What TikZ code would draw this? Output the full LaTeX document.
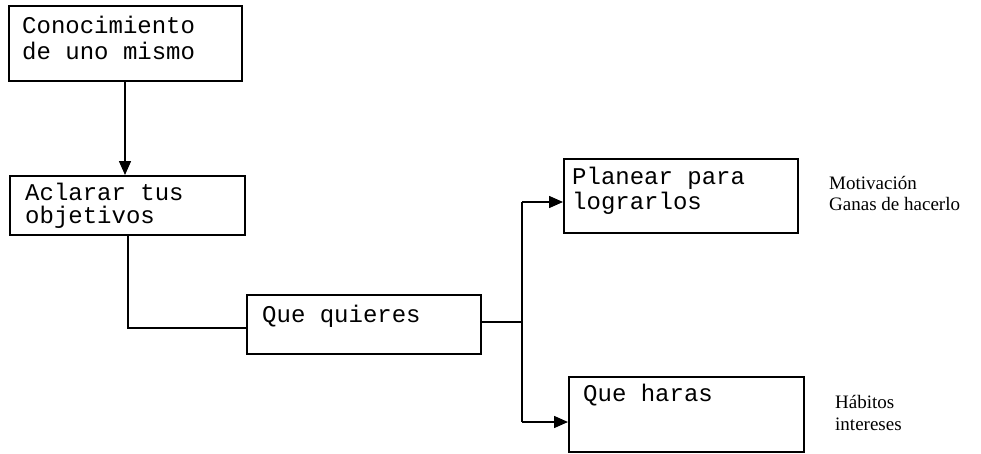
\documentclass[tikz,border=0pt]{standalone}
\usepackage{fontspec}
\setmainfont{Liberation Serif}
\setmonofont{Liberation Mono}
\usetikzlibrary{arrows.meta,calc}
\begin{document}
\begin{tikzpicture}[x=1pt,y=-1pt,
  box/.style={draw, line width=1.5pt, inner sep=0pt, anchor=north west},
  mono/.style={font=\fontsize{24}{24}\ttfamily, inner sep=0pt, anchor=base west},
  side/.style={font=\fontsize{19}{19}\selectfont, inner sep=0pt, anchor=base west},
  conn/.style={line width=1.5pt},
  arr/.style={conn, -{Triangle[length=14pt,width=12pt]}}]
\useasboundingbox (0,0) rectangle (981,453);
% boxes
\node[box, minimum width=233pt, minimum height=75pt] (b1) at (8,5) {};
\node[box, minimum width=235pt, minimum height=59pt] (b2) at (9,175) {};
\node[box, minimum width=234pt, minimum height=59pt] (b3) at (246,294) {};
\node[box, minimum width=234pt, minimum height=74pt] (b4) at (563,158) {};
\node[box, minimum width=235pt, minimum height=75pt] (b5) at (568,376) {};
% texts
\node[mono] (t1a) at (22,33) {Conocimiento};
\node[mono] (t1b) at (22,59) {de uno mismo};
\node[mono] (t2a) at (25,200) {Aclarar tus};
\node[mono] (t2b) at (25,223) {objetivos};
\node[mono] (t3) at (262,322) {Que quieres};
\node[mono] (t4a) at (572,184) {Planear para};
\node[mono] (t4b) at (572,209) {lograrlos};
\node[mono] (t5) at (583,401) {Que haras};
\node[side] (s1) at (829,189) {Motivación};
\node[side] (s2) at (829,210) {Ganas de hacerlo};
\node[side] (s3) at (835,408) {Hábitos};
\node[side] (s4) at (835,430) {intereses};
% connectors
\coordinate (c1) at (125,80);
\draw[arr] (c1) -- (c1 |- b2.north);
\coordinate (c2) at (128,234);
\coordinate (c3) at (128,328);
\draw[conn] (c2) -- (c3) -- (c3 -| b3.west);
\coordinate (j) at (522,322);
\draw[conn] (j -| b3.east) -- (j);
\coordinate (p4) at (522,202);
\coordinate (p5) at (522,422);
\draw[conn] (p4) -- (p5);
\draw[arr] (p4) -- (p4 -| b4.west);
\draw[arr] (p5) -- (p5 -| b5.west);
\end{tikzpicture}
\end{document}
